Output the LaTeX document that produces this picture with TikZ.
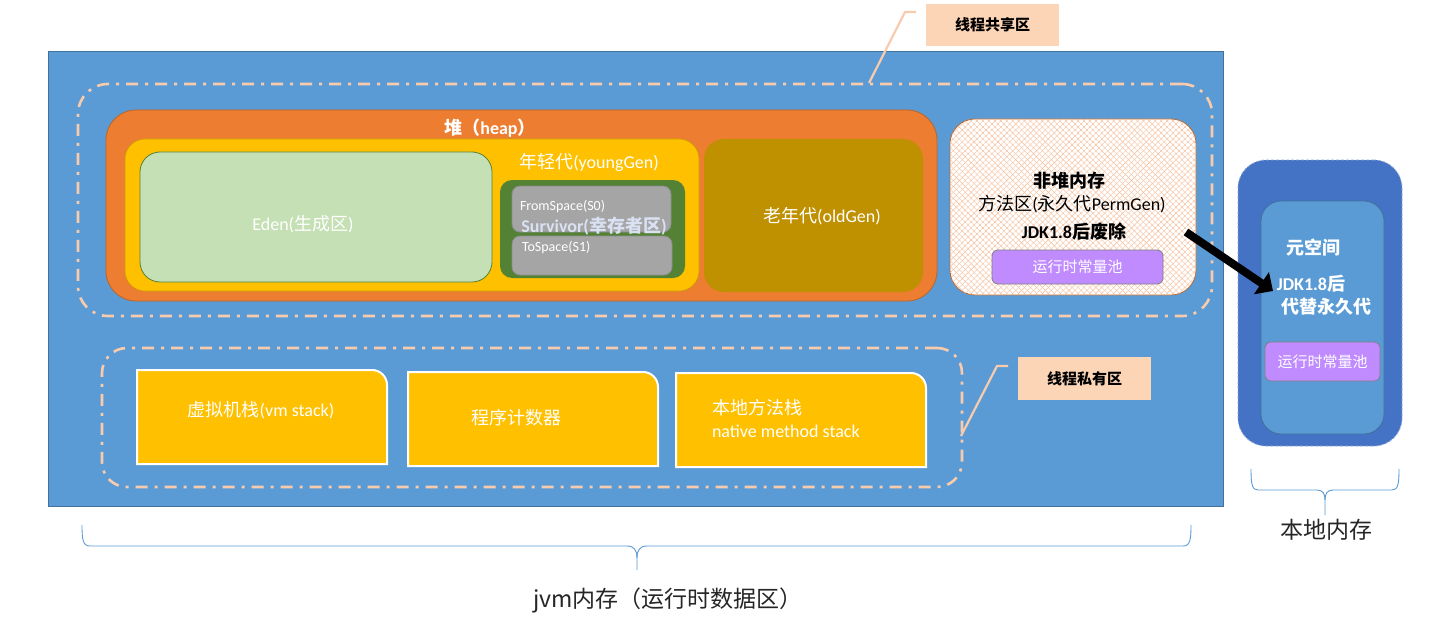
\documentclass[tikz,border=0pt]{standalone}
\usepackage{fontspec}
\setmainfont{Carlito}
\newfontfamily\cjk{Noto Sans CJK SC}
\usetikzlibrary{arrows.meta,patterns.meta}
\newcommand\zh[1]{{\cjk #1}}
\newcommand\fsz[1]{\fontsize{#1}{#1}\selectfont}
\definecolor{mainblue}{HTML}{5B9BD5}
\definecolor{mainbd}{HTML}{41719C}
\definecolor{heaporange}{HTML}{ED7D31}
\definecolor{heapbd}{HTML}{B8652A}
\definecolor{gold}{HTML}{FFC000}
\definecolor{goldbd}{HTML}{C9A000}
\definecolor{edengreen}{HTML}{C5E0B4}
\definecolor{darkgreen}{HTML}{548235}
\definecolor{sgrey}{HTML}{A5A5A5}
\definecolor{sgreybd}{HTML}{8C8C8C}
\definecolor{oldgold}{HTML}{BF9000}
\definecolor{hatch}{HTML}{F6BE98}
\definecolor{poolpurple}{HTML}{BF8BFF}
\definecolor{darkblue}{HTML}{4472C4}
\definecolor{metadash}{HTML}{8FA8D8}
\definecolor{peach}{HTML}{F8CBAD}
\definecolor{peachlt}{HTML}{FCD5B7}
\definecolor{survtext}{HTML}{D9E1F2}
\begin{document}
\begin{tikzpicture}[x=1pt,y=-1pt,
  every node/.style={inner sep=0pt, outer sep=0pt},
  txt/.style={text=white, font=\fsz{18}},
  dashdot/.style={draw=peach, line width=2.6pt, dash pattern=on 12pt off 7pt on 3pt off 7pt},
  stackbox/.style={fill=gold, draw=white, line width=2pt},
  labelbox/.style={fill=peachlt, minimum width=133pt, minimum height=42pt, font=\fsz{15}\cjk\bfseries, text=black},
  leader/.style={draw=peach, line width=2.2pt},
  bracepath/.style={draw=mainblue, line width=0.9pt},
  pool/.style={fill=poolpurple, draw=gray, line width=0.8pt, rounded corners=6pt, text=white, font=\fsz{15}\cjk},
  bigarrow/.style={draw=black, line width=8pt, -{Triangle[length=14pt,width=26pt]}}
]
\useasboundingbox (0,0) rectangle (1456,623);
\fill[white] (0,0) rectangle (1456,623);

% JVM area
\node[draw=mainbd, fill=mainblue, line width=1pt, minimum width=1175pt, minimum height=454pt] (jvm) at (635.5,279) {};
\node[dashdot, rounded corners=30pt, minimum width=1134pt, minimum height=232pt] (shared) at (645,200) {};

% heap
\node[fill=heaporange, draw=heapbd, line width=0.8pt, rounded corners=30pt, minimum width=831pt, minimum height=191pt] (heap) at (521.5,205.5) {};
\node[fill=gold, draw=goldbd, line width=0.6pt, rounded corners=20pt, minimum width=574pt, minimum height=152pt] (young) at (412,215) {};
\node[fill=edengreen, draw=darkgreen, line width=0.8pt, rounded corners=20pt, minimum width=352pt, minimum height=130pt] (eden) at (316,217) {};
\node[fill=darkgreen, rounded corners=12pt, minimum width=185pt, minimum height=98pt] (surv) at (592.5,229) {};
\node[fill=sgrey, draw=sgreybd, line width=0.8pt, rounded corners=8pt, minimum width=159pt, minimum height=46pt] (from) at (591.5,209) {};
\node[fill=sgrey, draw=sgreybd, line width=0.8pt, rounded corners=8pt, minimum width=160pt, minimum height=39pt] (to) at (592,255.5) {};
\node[fill=oldgold, rounded corners=20pt, minimum width=219pt, minimum height=153pt] (old) at (813.5,215.5) {};

\node[txt, font=\fsz{18}\bfseries] (tHeap) at (490,128) {\zh{堆（}heap\zh{）}};
\node[txt] (tEden) at (303,224) {Eden(\zh{生成区})};
\node[txt] (tYoung) at (589,162) {\zh{年轻代}(youngGen)};
\node[txt, font=\fsz{14}, anchor=west] (tFrom) at (520,207) {FromSpace(S0)};
\node[txt, font=\fsz{14}, anchor=west] (tTo) at (522,248) {ToSpace(S1)};
\node[txt, text=survtext, font=\fsz{18}\bfseries] (tSurv) at (594,226) {Survivor(\zh{幸存者区})};
\node[txt] (tOld) at (822,216) {\zh{老年代}(oldGen)};

% non-heap
\node[fill=white, draw=heapbd, line width=0.8pt, rounded corners=25pt, minimum width=246pt, minimum height=176pt,
  pattern color=hatch,
  postaction={pattern={Lines[angle=45,distance=4.2pt,line width=0.4pt]}},
  postaction={pattern={Lines[angle=-45,distance=4.2pt,line width=0.4pt]}}] (nonheap) at (1073,207) {};
\node[txt, text=black, font=\fsz{18}\bfseries] (tNH1) at (1069,181) {\zh{非堆内存}};
\node[txt, text=black] (tNH2) at (1072,204) {\zh{方法区}(\zh{永久代}PermGen)};
\node[txt, text=black, font=\fsz{18}\bfseries] (tNH3) at (1074,232) {JDK1.8\zh{后废除}};
\node[pool, minimum width=171pt, minimum height=34pt] (pool1) at (1077.5,267) {运行时常量池};

% metaspace
\node[fill=darkblue, draw=metadash, dash pattern=on 3pt off 2pt, line width=0.8pt, rounded corners=28pt, minimum width=164pt, minimum height=286pt] (metaO) at (1320,303) {};
\node[fill=mainblue, draw=mainbd, line width=0.8pt, rounded corners=20pt, minimum width=123pt, minimum height=233pt] (metaI) at (1322.5,317.5) {};
\node[txt, font=\fsz{18}\bfseries] (tMeta1) at (1313,248) {\zh{元空间}};
\node[txt, font=\fsz{18}\bfseries] (tMeta2) at (1311,284) {JDK1.8\zh{后}};
\node[txt, font=\fsz{18}\bfseries] (tMeta3) at (1326,307) {\zh{代替永久代}};
\node[pool, minimum width=115pt, minimum height=39pt] (pool2) at (1322.5,361.5) {运行时常量池};

% shared label
\node[labelbox] (lab1) at (992.5,25) {线程共享区};
\coordinate (c1s) at (869,83);
\coordinate (c1k) at (905,12);
\coordinate (c1e) at (916,12);
\draw[leader] (c1s) -- (c1k) -- (c1e);

% private area
\node[dashdot, rounded corners=25pt, minimum width=860pt, minimum height=139pt] (private) at (532,417.5) {};
\node[minimum width=250pt, minimum height=94pt] (s1) at (262,417) {};
\node[minimum width=250pt, minimum height=94pt] (s2) at (533,419) {};
\node[minimum width=250pt, minimum height=94pt] (s3) at (801,420) {};
\foreach \s in {s1,s2,s3}{
  \draw[stackbox] (\s.south west) -- (\s.north west) -- ([xshift=-15pt]\s.north east)
    arc[start angle=90, end angle=0, radius=15pt] -- (\s.south east) -- cycle;
}
\node[txt] (tS1) at (261,410) {\zh{虚拟机栈}(vm stack)};
\node[txt] (tS2) at (516,418) {\zh{程序计数器}};
\node[txt, anchor=west] (tS3a) at (712,408) {\zh{本地方法栈}};
\node[txt, anchor=west] (tS3b) at (712,431) {native method stack};

\node[labelbox, minimum height=43pt] (lab2) at (1084.5,378.5) {线程私有区};
\coordinate (c2s) at (961,436);
\coordinate (c2k) at (997,366);
\coordinate (c2e) at (1008,366);
\draw[leader] (c2s) -- (c2k) -- (c2e);

% arrow
\coordinate (aS) at (1186,232);
\coordinate (aE) at (1273,291);
\draw[bigarrow] (aS) -- (aE);

% braces
\draw[bracepath] (82,525) .. controls (82,540) and (83,546) .. (90,546) -- (627,546)
  .. controls (634,546) and (637,550) .. (637,558) -- (637,570);
\draw[bracepath] (637,558) .. controls (637,550) and (640,546) .. (647,546) -- (1183,546)
  .. controls (1190,546) and (1191,540) .. (1191,525);
\draw[bracepath] (1251,469) .. controls (1251,484) and (1252,490) .. (1258,490) -- (1317,490)
  .. controls (1323,490) and (1325,494) .. (1325,500) -- (1325,515);
\draw[bracepath] (1325,500) .. controls (1325,494) and (1327,490) .. (1333,490) -- (1392,490)
  .. controls (1398,490) and (1399,484) .. (1399,469);

\node[text=black!85, font=\fsz{23}\cjk] (tJvm) at (668,600) {jvm内存（运行时数据区）};
\node[text=black!85, font=\fsz{23}\cjk] (tNative) at (1326,530) {本地内存};
\end{tikzpicture}
\end{document}
